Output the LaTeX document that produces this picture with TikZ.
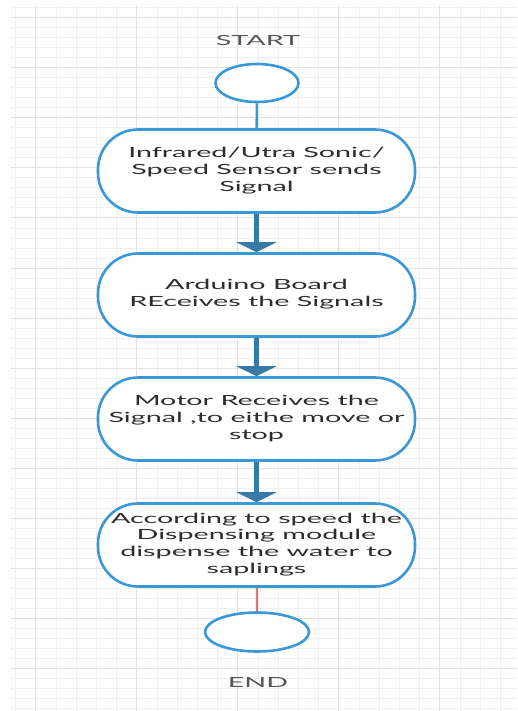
\documentclass[tikz,border=0pt]{standalone}
\usepackage{graphicx}
\usepackage{fontspec}
\setmainfont{Lato}
\usetikzlibrary{shapes,arrows.meta,positioning,calc}
\definecolor{LineBlue}{RGB}{58,152,216}
\definecolor{ArrowBlue}{RGB}{55,122,168}
\definecolor{LinkRed}{RGB}{232,112,118}
\definecolor{TextGray}{RGB}{45,45,45}
\definecolor{LabelGray}{RGB}{85,85,85}
\definecolor{GridMinor}{RGB}{240,240,240}
\definecolor{GridMajor}{RGB}{226,226,226}
\newcommand{\widetext}[1]{\scalebox{2.05}[1]{\begin{tabular}{@{}c@{}}#1\end{tabular}}}

\begin{document}
\begin{tikzpicture}[x=1pt, y=-1pt,
    flowbox/.style={draw=LineBlue, line width=2.6pt, fill=white, rectangle,
      rounded corners=40pt, minimum width=317pt, minimum height=83pt,
      inner sep=0pt, text=TextGray, font=\fontsize{14}{16.8}\selectfont},
    terminal/.style={draw=LineBlue, line width=2.6pt, fill=white, ellipse,
      inner sep=0pt},
    endlabel/.style={text=LabelGray, font=\fontsize{14}{16}\selectfont},
    flowarrow/.style={ArrowBlue, line width=4.5pt,
      -{Triangle[width=40pt, length=10pt]}},
    startlink/.style={LineBlue, line width=2.6pt},
    endlink/.style={LinkRed, line width=2pt}]
  \useasboundingbox (0,0) rectangle (517,711);

  % Grid paper
  \fill[white] (0,0) rectangle (517,711);
  \foreach \gy in {8,18,...,711} \draw[GridMinor, line width=1pt] (11,\gy) -- (517,\gy);
  \foreach \gx in {15.6,35.8,...,517} \draw[GridMinor, line width=1pt] (\gx,6) -- (\gx,711);
  \foreach \gy in {18,68,...,711} \draw[GridMajor, line width=1pt] (11,\gy) -- (517,\gy);
  \foreach \gx in {35.8,136.8,...,517} \draw[GridMajor, line width=1pt] (\gx,6) -- (\gx,711);

  % Start
  \node[endlabel] (starttext) at (258,42) {\widetext{START}};
  \node[terminal, minimum width=83pt, minimum height=38pt] (start) at (257,83) {};

  % Steps
  \node[flowbox] (sensor) at (256.5,171) {\widetext{Infrared/Utra Sonic/\\Speed Sensor sends\\Signal}};
  \node[flowbox] (board) at (256.5,295) {\widetext{Arduino Board\\REceives the Signals}};
  \node[flowbox] (motor) at (256.5,419) {\widetext{Motor Receives the\\Signal ,to eithe move or\\stop}};
  \node[flowbox] (dispense) at (256.5,545) {\widetext{According to speed the\\Dispensing module\\dispense the water to\\saplings}};

  % End
  \node[terminal, minimum width=104pt, minimum height=39pt] (stop) at (257,632) {};
  \node[endlabel] (endtext) at (258,684) {\widetext{END}};

  % Connectors
  \draw[startlink] (start) -- (sensor);
  \draw[flowarrow] (sensor) -- (board);
  \draw[flowarrow] (board) -- (motor);
  \draw[flowarrow] (motor) -- (dispense);
  \draw[endlink] (dispense) -- (stop);
\end{tikzpicture}
\end{document}
